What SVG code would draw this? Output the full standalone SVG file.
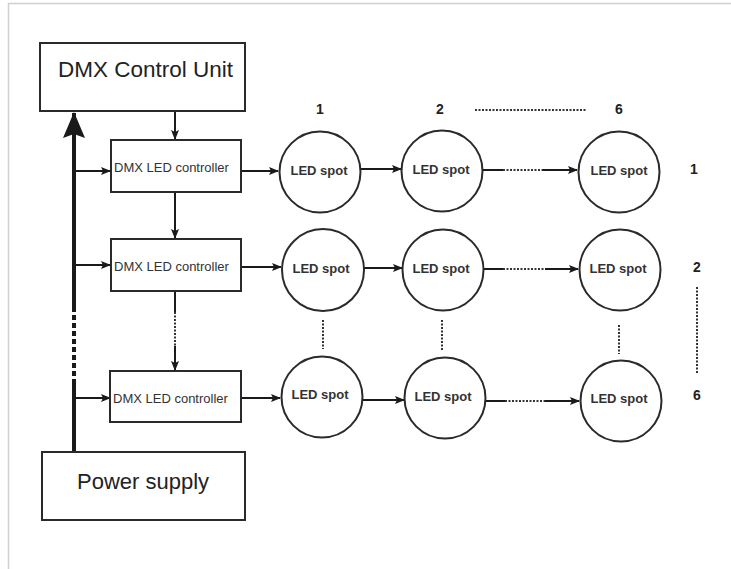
<svg xmlns="http://www.w3.org/2000/svg" width="731" height="569" viewBox="0 0 731 569">
<defs>
<marker id="ah" markerWidth="10" markerHeight="8" refX="9" refY="4" orient="auto" markerUnits="userSpaceOnUse">
<path d="M0,0 L10,4 L0,8 L2,4 Z" fill="#1a1a1a"/>
</marker>
<marker id="big" markerWidth="26" markerHeight="22" refX="25" refY="11" orient="auto" markerUnits="userSpaceOnUse">
<path d="M26,11 L0,0 L4,11 L0,22 Z" fill="#1a1a1a"/>
</marker>
</defs>
<style>
.box{fill:#fff;stroke:#2a2a2a;stroke-width:2}
.spot{fill:#fff;stroke:#2a2a2a;stroke-width:2}
.ln{stroke:#1a1a1a;stroke-width:2;fill:none}
.dot{stroke:#333;stroke-width:2;fill:none;stroke-dasharray:2,1.5}
.big{font-family:"Liberation Sans",Arial,sans-serif;font-size:22.5px;fill:#222}
.ctl{font-family:"Liberation Sans",Arial,sans-serif;font-size:13px;fill:#333}
.spt{font-family:"Liberation Sans",Arial,sans-serif;font-size:13px;font-weight:bold;fill:#333}
.num{font-family:"Liberation Sans",Arial,sans-serif;font-size:14px;font-weight:bold;fill:#222}
</style>
<rect width="731" height="569" fill="#fff"/>
<path d="M8.5,569 V3.5 H731" fill="none" stroke="#d0d0d0" stroke-width="1.5"/>

<g id="connectors">
<!-- power bus -->
<line x1="74" y1="452" x2="74" y2="384" stroke="#1a1a1a" stroke-width="4"/>
<line x1="74" y1="384" x2="74" y2="310" stroke="#1a1a1a" stroke-width="4" stroke-dasharray="5,3"/>
<line x1="74" y1="310" x2="74" y2="113" stroke="#1a1a1a" stroke-width="4" marker-end="url(#big)"/>
<line class="ln" x1="74" y1="171" x2="110" y2="171" marker-end="url(#ah)"/>
<line class="ln" x1="74" y1="265" x2="110" y2="265" marker-end="url(#ah)"/>
<line class="ln" x1="74" y1="398" x2="110" y2="398" marker-end="url(#ah)"/>
<!-- DMX chain -->
<line class="ln" x1="175" y1="111" x2="175" y2="139" marker-end="url(#ah)"/>
<line class="ln" x1="175" y1="192" x2="175" y2="238" marker-end="url(#ah)"/>
<line class="ln" x1="175" y1="291" x2="175" y2="312"/>
<line class="dot" x1="175" y1="312" x2="175" y2="346"/>
<line class="ln" x1="175" y1="346" x2="175" y2="370" marker-end="url(#ah)"/>
<!-- row 1 -->
<line class="ln" x1="241" y1="171" x2="278" y2="171" marker-end="url(#ah)"/>
<line class="ln" x1="361" y1="169" x2="401" y2="169" marker-end="url(#ah)"/>
<line class="ln" x1="482" y1="170" x2="503" y2="170"/>
<line class="dot" x1="503" y1="170" x2="543" y2="170"/>
<line class="ln" x1="543" y1="170" x2="577" y2="170" marker-end="url(#ah)"/>
<!-- row 2 -->
<line class="ln" x1="241" y1="267" x2="281" y2="267" marker-end="url(#ah)"/>
<line class="ln" x1="363" y1="268" x2="402" y2="268" marker-end="url(#ah)"/>
<line class="ln" x1="484" y1="269" x2="503" y2="269"/>
<line class="dot" x1="503" y1="269" x2="545" y2="269"/>
<line class="ln" x1="545" y1="269" x2="578" y2="269" marker-end="url(#ah)"/>
<!-- row 3 -->
<line class="ln" x1="241" y1="398" x2="280" y2="398" marker-end="url(#ah)"/>
<line class="ln" x1="362" y1="400" x2="404" y2="400" marker-end="url(#ah)"/>
<line class="ln" x1="485" y1="401" x2="505" y2="401"/>
<line class="dot" x1="505" y1="401" x2="545" y2="401"/>
<line class="ln" x1="545" y1="401" x2="579" y2="401" marker-end="url(#ah)"/>
<!-- vertical dotted between rows -->
<line class="dot" x1="323" y1="320" x2="323" y2="349"/>
<line class="dot" x1="442" y1="320" x2="442" y2="350"/>
<line class="dot" x1="619" y1="325" x2="619" y2="354"/>
</g>

<g id="dmx-control-unit"><rect class="box" x="40" y="43" width="205" height="68"/><text class="big" x="58" y="77">DMX Control Unit</text></g>
<g id="power-supply"><rect class="box" x="42" y="452" width="203" height="68"/><text class="big" x="77" y="489" style="font-size:22px">Power supply</text></g>
<g id="controller-1"><rect class="box" x="111" y="140" width="130" height="52"/><text class="ctl" x="114" y="172">DMX LED controller</text></g>
<g id="controller-2"><rect class="box" x="111" y="239" width="130" height="52"/><text class="ctl" x="114" y="271">DMX LED controller</text></g>
<g id="controller-3"><rect class="box" x="110" y="371" width="131" height="51"/><text class="ctl" x="113" y="403">DMX LED controller</text></g>

<g id="spot-1-1"><circle class="spot" cx="320" cy="172" r="40.5"/><text class="spt" x="319" y="175" text-anchor="middle">LED spot</text></g>
<g id="spot-1-2"><circle class="spot" cx="442" cy="171" r="40.5"/><text class="spt" x="441" y="174" text-anchor="middle">LED spot</text></g>
<g id="spot-1-6"><circle class="spot" cx="619" cy="172" r="40.5"/><text class="spt" x="619" y="175" text-anchor="middle">LED spot</text></g>
<g id="spot-2-1"><circle class="spot" cx="323" cy="270" r="41"/><text class="spt" x="321" y="273" text-anchor="middle">LED spot</text></g>
<g id="spot-2-2"><circle class="spot" cx="443" cy="270" r="40.5"/><text class="spt" x="441" y="273" text-anchor="middle">LED spot</text></g>
<g id="spot-2-6"><circle class="spot" cx="620" cy="270" r="40.5"/><text class="spt" x="618" y="273" text-anchor="middle">LED spot</text></g>
<g id="spot-3-1"><circle class="spot" cx="322" cy="397" r="40.5"/><text class="spt" x="320" y="399" text-anchor="middle">LED spot</text></g>
<g id="spot-3-2"><circle class="spot" cx="445" cy="398" r="40.5"/><text class="spt" x="443" y="401" text-anchor="middle">LED spot</text></g>
<g id="spot-3-6"><circle class="spot" cx="621" cy="401" r="40.5"/><text class="spt" x="619" y="403" text-anchor="middle">LED spot</text></g>

<g id="labels">
<text class="num" x="320" y="114" text-anchor="middle">1</text>
<text class="num" x="440" y="114" text-anchor="middle">2</text>
<text class="num" x="619" y="114" text-anchor="middle">6</text>
<line class="dot" x1="475" y1="110" x2="587" y2="110" stroke-width="1.5"/>
<text class="num" x="694" y="174" text-anchor="middle">1</text>
<text class="num" x="697" y="272" text-anchor="middle">2</text>
<text class="num" x="697" y="400" text-anchor="middle">6</text>
<line class="dot" x1="697" y1="287" x2="697" y2="373" stroke-width="1.5"/>
</g>
</svg>
